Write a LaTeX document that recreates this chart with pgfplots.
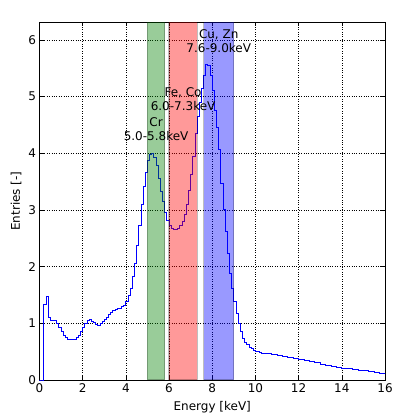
\documentclass[border=0pt]{standalone}
\usepackage{fontspec}
\setmainfont{DejaVu Sans}
\usepackage{pgfplots}
\usepackage{pgfplotstable}
\pgfplotsset{compat=1.18}
\pgfplotstableread{
E v
0.0 0
0.1 0
0.2 1.34
0.3 1.48
0.4 1.10
0.5 1.05
0.6 1.05
0.7 1.05
0.8 1.00
0.9 0.93
1.0 0.85
1.1 0.79
1.2 0.75
1.3 0.72
1.4 0.71
1.5 0.71
1.6 0.72
1.7 0.75
1.8 0.79
1.9 0.86
2.0 0.93
2.1 1.00
2.2 1.05
2.3 1.06
2.4 1.04
2.5 1.01
2.6 0.98
2.7 0.97
2.8 0.99
2.9 1.03
3.0 1.07
3.1 1.11
3.2 1.15
3.3 1.19
3.4 1.22
3.5 1.24
3.6 1.26
3.7 1.27
3.8 1.29
3.9 1.32
4.0 1.38
4.1 1.50
4.2 1.62
4.3 1.82
4.4 2.06
4.5 2.38
4.6 2.73
4.7 3.09
4.8 3.41
4.9 3.67
5.0 3.88
5.1 3.97
5.2 3.99
5.3 3.93
5.4 3.79
5.5 3.56
5.6 3.32
5.7 3.15
5.8 2.96
5.9 2.82
6.0 2.72
6.1 2.67
6.2 2.66
6.3 2.66
6.4 2.67
6.5 2.72
6.6 2.80
6.7 2.92
6.8 3.10
6.9 3.35
7.0 3.62
7.1 3.95
7.2 4.35
7.3 4.65
7.4 4.90
7.5 5.15
7.6 5.38
7.7 5.57
7.8 5.55
7.9 5.38
8.0 5.10
8.1 4.75
8.2 4.45
8.3 4.06
8.4 3.47
8.5 3.00
8.6 2.62
8.7 2.23
8.8 1.88
8.9 1.62
9.0 1.38
9.1 1.18
9.2 1.00
9.3 0.85
9.4 0.73
9.5 0.67
9.6 0.62
9.7 0.58
9.8 0.55
9.9 0.53
10.0 0.51
10.1 0.495
10.2 0.485
10.3 0.477
10.4 0.47
10.5 0.465
10.75 0.452
11.0 0.437
11.25 0.42
11.5 0.403
11.75 0.385
12.0 0.365
12.25 0.345
12.5 0.325
12.75 0.303
13.0 0.282
13.25 0.264
13.5 0.246
13.75 0.228
14.0 0.21
14.25 0.198
14.5 0.186
14.75 0.175
15.0 0.163
15.25 0.15
15.5 0.137
15.75 0.124
16.0 0.11
}\spectrum
\definecolor{mplg}{rgb}{0,0.5,0}
\definecolor{mplr}{rgb}{1,0,0}
\definecolor{mplb}{rgb}{0,0,1}
\begin{document}
\begin{tikzpicture}
\begin{axis}[
  scale only axis, width=345.5pt, height=357.7pt,
  xmin=0, xmax=16, ymin=0, ymax=6.31,
  xtick={0,2,...,16}, ytick={0,1,...,6},
  tick align=inside, tick pos=both,
  major tick length=4pt,
  grid=major, grid style={black, dotted, line width=0.6pt},
  axis line style={line width=0.8pt},
  tick style={black, line width=0.6pt},
  /pgf/number format/assume math mode=true,
  ticklabel style={font=\fontsize{12}{14}\selectfont},
  label style={font=\fontsize{12}{14}\selectfont},
  xlabel={Energy [keV]}, ylabel={Entries [-]},
  xlabel style={at={(axis description cs:0.5,-0.0755)}, anchor=center},
  ylabel style={at={(axis description cs:-0.068,0.5)}, anchor=center},
  clip=true,
]
\addplot[const plot, mplb, line width=0.9pt] table[x=E, y=v] {\spectrum};
\addplot[fill=mplg, fill opacity=0.4, draw=black, draw opacity=0.25, line width=1.2pt] coordinates {(5.0,0) (5.0,6.31) (5.8,6.31) (5.8,0)} -- cycle;
\addplot[fill=mplr, fill opacity=0.4, draw=black, draw opacity=0.25, line width=1.2pt] coordinates {(6.0,0) (6.0,6.31) (7.3,6.31) (7.3,0)} -- cycle;
\addplot[fill=mplb, fill opacity=0.4, draw=black, draw opacity=0.25, line width=1.2pt] coordinates {(7.6,0) (7.6,6.31) (9.0,6.31) (9.0,0)} -- cycle;
\node[anchor=south, align=center, font=\fontsize{12}{14}\selectfont, inner sep=0pt] at (axis cs:5.4,4.21) {Cr\\5.0-5.8keV};
\node[anchor=south, align=center, font=\fontsize{12}{14}\selectfont, inner sep=0pt] at (axis cs:6.65,4.75) {Fe, Co\\6.0-7.3keV};
\node[anchor=south, align=center, font=\fontsize{12}{14}\selectfont, inner sep=0pt] at (axis cs:8.3,5.77) {Cu, Zn\\7.6-9.0keV};
\node[anchor=south west, inner sep=0pt, font=\fontsize{12}{14}\selectfont] at (rel axis cs:0,1) [yshift=2.5pt] {1e5};
\end{axis}
\pgfresetboundingbox
\path (-39.5pt,-34pt) rectangle (363.5pt,380pt);
\end{tikzpicture}
\end{document}
